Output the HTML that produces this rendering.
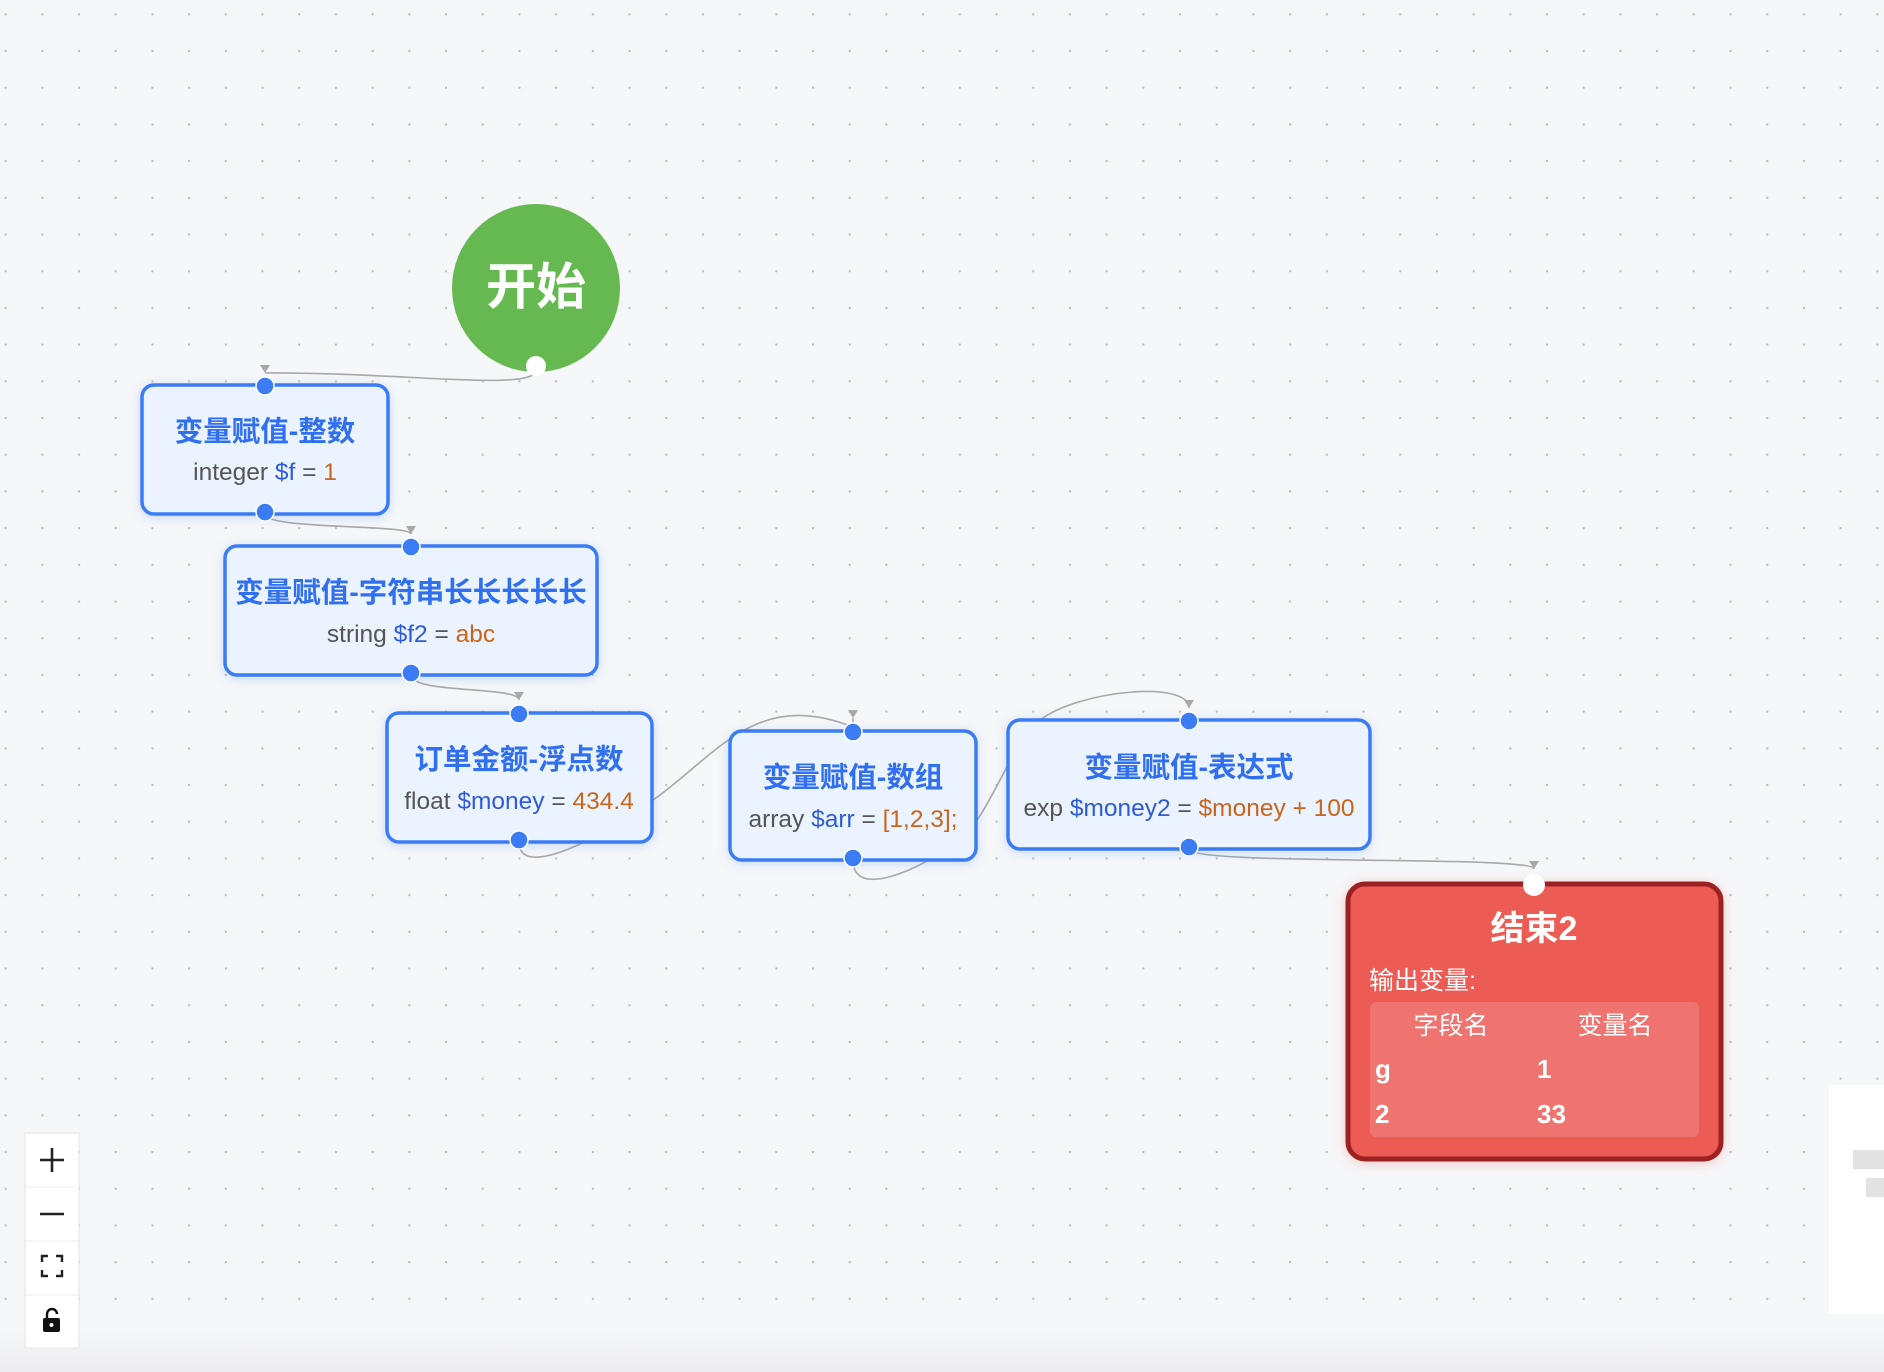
<!DOCTYPE html>
<html><head><meta charset="utf-8"><style>
html,body{margin:0;padding:0;width:1884px;height:1372px;overflow:hidden;background:#f6f7f9;}
svg{display:block}
text{font-family:"Liberation Sans","Noto Sans CJK SC",sans-serif;}
</style></head><body>
<svg width="1884" height="1372" viewBox="0 0 1884 1372" xmlns="http://www.w3.org/2000/svg">
<defs>
<pattern id="dots" x="4.6" y="13.3" width="36.7" height="36.7" patternUnits="userSpaceOnUse">
<circle cx="1" cy="1" r="1.2" fill="#b9bcc2"/></pattern>
<marker id="ar" viewBox="0 0 10 10" refX="5" refY="8" markerWidth="10" markerHeight="10" orient="0" markerUnits="userSpaceOnUse">
<path d="M0,0 L10,0 L5,8 z" fill="#a8a8a8"/></marker>
<filter id="sh" x="-20%" y="-20%" width="140%" height="140%"><feDropShadow dx="0" dy="2" stdDeviation="5" flood-color="#3b7cf5" flood-opacity="0.25"/></filter>
<filter id="shr" x="-20%" y="-20%" width="140%" height="140%"><feDropShadow dx="0" dy="2" stdDeviation="6" flood-color="#e05a55" flood-opacity="0.3"/></filter>
<linearGradient id="bot" x1="0" y1="0" x2="0" y2="1"><stop offset="0" stop-color="#f6f7f9"/><stop offset="1" stop-color="#ececee"/></linearGradient>
</defs>
<rect width="1884" height="1372" fill="#f6f7f9"/>
<rect width="1884" height="1372" fill="url(#dots)"/>
<rect x="0" y="1330" width="1884" height="42" fill="url(#bot)"/>

<g fill="none" stroke="#a8a8a8" stroke-width="1.6">
<path d="M536,370 C536,392 400,372 265,373" marker-end="url(#ar)"/>
<path d="M265,514 C265,530 411,524 411,534" marker-end="url(#ar)"/>
<path d="M411,675 C411,694 519,686 519,700" marker-end="url(#ar)"/>
<path d="M519,842 C519,880 600,840 660,795 C720,750 760,690 853,727 C853,718 853,718 853,718" marker-end="url(#ar)"/>
<path d="M853,860 C853,900 920,870 960,840 C990,815 1010,745 1040,720 C1080,690 1189,680 1189,708" marker-end="url(#ar)"/>
<path d="M1189,849 C1189,866 1534,855 1534,869" marker-end="url(#ar)"/>
</g>

<circle cx="536" cy="288" r="84" fill="#65b950"/>
<text x="536" y="304" text-anchor="middle" font-size="50" font-weight="bold" fill="#fff">开始</text>
<circle cx="536" cy="366" r="10" fill="#fff"/>

<g filter="url(#sh)"><rect x="142" y="385" width="246" height="129" rx="12" fill="#eaf3fe" stroke="#3b7cf5" stroke-width="3.5"/></g>
<text x="265" y="441" text-anchor="middle" font-size="28.5" font-weight="bold" fill="#2f6ff0">变量赋值-整数</text>
<text x="265" y="480" text-anchor="middle" font-size="24.5"><tspan fill="#555">integer </tspan><tspan fill="#2f5bd8">$f</tspan><tspan fill="#555"> = </tspan><tspan fill="#c9651c">1</tspan></text>
<circle cx="265" cy="386" r="9" fill="#3b7cf5" stroke="#fff" stroke-width="1.5"/>
<circle cx="265" cy="512" r="9" fill="#3b7cf5" stroke="#fff" stroke-width="1.5"/>

<g filter="url(#sh)"><rect x="225" y="546" width="372" height="129" rx="12" fill="#eaf3fe" stroke="#3b7cf5" stroke-width="3.5"/></g>
<text x="411" y="602" text-anchor="middle" font-size="28.5" font-weight="bold" fill="#2f6ff0">变量赋值-字符串长长长长长</text>
<text x="411" y="642" text-anchor="middle" font-size="24.5"><tspan fill="#555">string </tspan><tspan fill="#2f5bd8">$f2</tspan><tspan fill="#555"> = </tspan><tspan fill="#c9651c">abc</tspan></text>
<circle cx="411" cy="547" r="9" fill="#3b7cf5" stroke="#fff" stroke-width="1.5"/>
<circle cx="411" cy="673" r="9" fill="#3b7cf5" stroke="#fff" stroke-width="1.5"/>

<g filter="url(#sh)"><rect x="387" y="713" width="265" height="129" rx="12" fill="#eaf3fe" stroke="#3b7cf5" stroke-width="3.5"/></g>
<text x="519" y="769" text-anchor="middle" font-size="28.5" font-weight="bold" fill="#2f6ff0">订单金额-浮点数</text>
<text x="519" y="809" text-anchor="middle" font-size="24.5"><tspan fill="#555">float </tspan><tspan fill="#2f5bd8">$money</tspan><tspan fill="#555"> = </tspan><tspan fill="#c9651c">434.4</tspan></text>
<circle cx="519" cy="714" r="9" fill="#3b7cf5" stroke="#fff" stroke-width="1.5"/>
<circle cx="519" cy="840" r="9" fill="#3b7cf5" stroke="#fff" stroke-width="1.5"/>

<g filter="url(#sh)"><rect x="730" y="731" width="246" height="129" rx="12" fill="#eaf3fe" stroke="#3b7cf5" stroke-width="3.5"/></g>
<text x="853" y="787" text-anchor="middle" font-size="28.5" font-weight="bold" fill="#2f6ff0">变量赋值-数组</text>
<text x="853" y="827" text-anchor="middle" font-size="24.5"><tspan fill="#555">array </tspan><tspan fill="#2f5bd8">$arr</tspan><tspan fill="#555"> = </tspan><tspan fill="#c9651c">[1,2,3];</tspan></text>
<circle cx="853" cy="732" r="9" fill="#3b7cf5" stroke="#fff" stroke-width="1.5"/>
<circle cx="853" cy="858" r="9" fill="#3b7cf5" stroke="#fff" stroke-width="1.5"/>

<g filter="url(#sh)"><rect x="1008" y="720" width="362" height="129" rx="12" fill="#eaf3fe" stroke="#3b7cf5" stroke-width="3.5"/></g>
<text x="1189" y="777" text-anchor="middle" font-size="28.5" font-weight="bold" fill="#2f6ff0">变量赋值-表达式</text>
<text x="1189" y="816" text-anchor="middle" font-size="24.5"><tspan fill="#555">exp </tspan><tspan fill="#2f5bd8">$money2</tspan><tspan fill="#555"> = </tspan><tspan fill="#c9651c">$money + 100</tspan></text>
<circle cx="1189" cy="721" r="9" fill="#3b7cf5" stroke="#fff" stroke-width="1.5"/>
<circle cx="1189" cy="847" r="9" fill="#3b7cf5" stroke="#fff" stroke-width="1.5"/>

<g filter="url(#shr)"><rect x="1348" y="884" width="373" height="275" rx="17" fill="#ec5b55" stroke="#9c2320" stroke-width="5"/></g>
<text x="1534" y="940" text-anchor="middle" font-size="34" font-weight="bold" fill="#fff">结束2</text>
<text x="1369" y="989" font-size="25" fill="#fff">输出变量:</text>
<rect x="1370" y="1002" width="329" height="135" rx="6" fill="#ef736f"/>
<text x="1451" y="1034" text-anchor="middle" font-size="25" fill="#fff">字段名</text>
<text x="1615" y="1034" text-anchor="middle" font-size="25" fill="#fff">变量名</text>
<text x="1375" y="1078" font-size="26" font-weight="bold" fill="#fff">g</text>
<text x="1537" y="1078" font-size="26" font-weight="bold" fill="#fff">1</text>
<text x="1375" y="1123" font-size="26" font-weight="bold" fill="#fff">2</text>
<text x="1537" y="1123" font-size="26" font-weight="bold" fill="#fff">33</text>
<circle cx="1534" cy="885" r="11" fill="#fff"/>

<rect x="1829" y="1085" width="55" height="229" fill="#fff"/>
<rect x="1853" y="1150" width="31" height="19" fill="#e2e2e2"/>
<rect x="1866" y="1178" width="18" height="19" fill="#e2e2e2"/>

<g>
<rect x="25" y="1133" width="54" height="215" fill="#fff" stroke="#e6e6e6"/>
<line x1="25" y1="1187" x2="79" y2="1187" stroke="#eee"/>
<line x1="25" y1="1241" x2="79" y2="1241" stroke="#eee"/>
<line x1="25" y1="1295" x2="79" y2="1295" stroke="#eee"/>
<path d="M52,1148 v24 M40,1160 h24" stroke="#222" stroke-width="2.6"/>
<path d="M40,1214 h24" stroke="#222" stroke-width="2.6"/>
<path d="M42,1262 v-6 h6 M56,1256 h6 v6 M62,1270 v6 h-6 M48,1276 h-6 v-6" fill="none" stroke="#222" stroke-width="2.4"/>
<rect x="43" y="1318" width="17" height="14" rx="2" fill="#111"/>
<path d="M47,1318 v-4 a5,5 0 0 1 10,0" fill="none" stroke="#111" stroke-width="2.4"/>
<circle cx="51.5" cy="1325" r="2" fill="#fff"/>
</g>
</svg>
</body></html>
